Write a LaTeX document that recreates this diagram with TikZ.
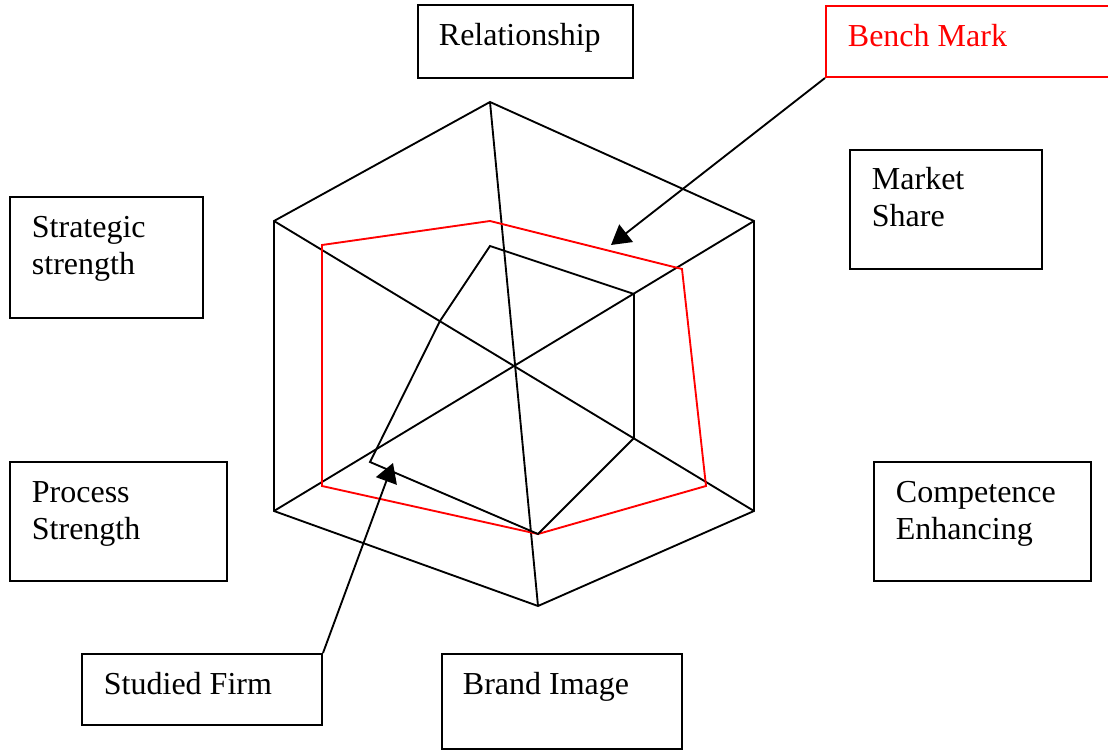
\documentclass[tikz,border=0pt]{standalone}
\usepackage{fontspec}
\setmainfont{Liberation Serif}
\usetikzlibrary{arrows.meta,fit}
\begin{document}
\begin{tikzpicture}[x=0.75pt,y=-0.75pt,
  line width=1.4pt, line join=miter,
  box/.style={draw, line width=1.5pt, inner sep=0pt},
  redbox/.style={box, draw=red},
  lbl/.style={anchor=base west, inner sep=0pt, font=\fontsize{24pt}{27.6pt}\selectfont},
  arr/.style={-{Triangle[length=14.4pt,width=16.5pt]}},
  poly/.style={line width=1.4pt}]
\useasboundingbox (0,0) rectangle (1108,752);
\clip (0,0) rectangle (1108,752);
% boxes
\node[box, fit={(418,5) (633,78)}] (relbox) {};
\node[redbox, fit={(826,6) (1120,77)}] (benchbox) {};
\node[box, fit={(850,150) (1042,269)}] (mktbox) {};
\node[box, fit={(10,197) (203,318)}] (strbox) {};
\node[box, fit={(10,462) (227,581)}] (procbox) {};
\node[box, fit={(874,462) (1091,581)}] (compbox) {};
\node[box, fit={(82,654) (322,725)}] (firmbox) {};
\node[box, fit={(442,654) (682,749)}] (brandbox) {};
% texts
\node[lbl] (reltxt) at (438,46) {Relationship};
\node[lbl, text=red] (benchtxt) at (847,47) {Bench Mark};
\node[lbl] (mkttxt) at (871,190) {\begin{tabular}[t]{@{}l@{}}Market\\Share\end{tabular}};
\node[lbl] (strtxt) at (31,238) {\begin{tabular}[t]{@{}l@{}}Strategic\\strength\end{tabular}};
\node[lbl] (proctxt) at (31,503) {\begin{tabular}[t]{@{}l@{}}Process\\Strength\end{tabular}};
\node[lbl] (comptxt) at (895,503) {\begin{tabular}[t]{@{}l@{}}Competence\\Enhancing\end{tabular}};
\node[lbl] (firmtxt) at (103,694) {Studied Firm};
\node[lbl] (brandtxt) at (462,694) {Brand Image};
% outer hexagon
\coordinate (o1) at (490,102);
\coordinate (o2) at (754,221);
\coordinate (o3) at (754,511);
\coordinate (o4) at (538,606);
\coordinate (o5) at (274,511);
\coordinate (o6) at (274,221);
\draw[poly] (o1) -- (o2) -- (o3) -- (o4) -- (o5) -- (o6) -- cycle;
\draw[poly] (o1) -- (o4);
\draw[poly] (o2) -- (o5);
\draw[poly] (o6) -- (o3);
% bench mark polygon
\coordinate (r1) at (490,221);
\coordinate (r2) at (682,269);
\coordinate (r3) at (706,486);
\coordinate (r4) at (538,534);
\coordinate (r5) at (322,486);
\coordinate (r6) at (322,245);
\draw[poly, red] (r1) -- (r2) -- (r3) -- (r4) -- (r5) -- (r6) -- cycle;
% studied firm polygon
\coordinate (f1) at (490,246);
\coordinate (f2) at (634,294);
\coordinate (f3) at (634,438);
\coordinate (f4) at (538,534);
\coordinate (f5) at (370,462);
\coordinate (f6) at (440,321);
\draw[poly] (f1) -- (f2) -- (f3) -- (f4) -- (f5) -- (f6) -- cycle;
% arrows
\coordinate (benchtip) at (611,245);
\coordinate (firmtip) at (393,463);
\draw[arr] (benchbox.south west) -- (benchtip);
\draw[arr] (firmbox.north east) -- (firmtip);
\end{tikzpicture}
\end{document}
